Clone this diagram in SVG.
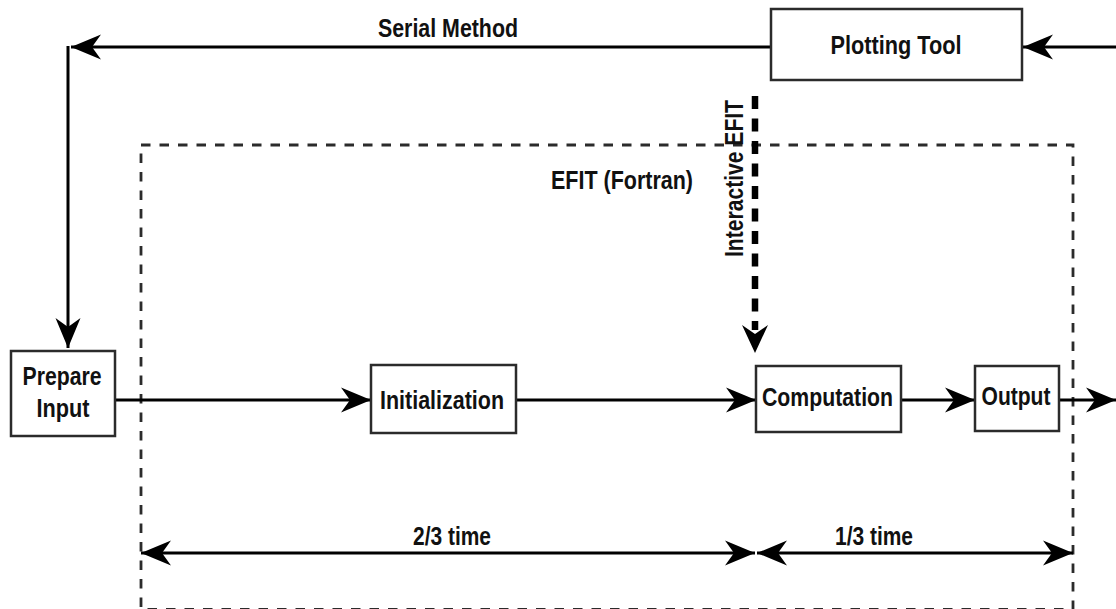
<svg xmlns="http://www.w3.org/2000/svg" width="1116" height="609" viewBox="0 0 1116 609">
<defs>
<marker id="ah" viewBox="0 0 30 26" refX="30" refY="13" markerWidth="30" markerHeight="26" markerUnits="userSpaceOnUse" orient="auto-start-reverse">
<path d="M0,0.5 L30,13 L0,25.5 L9,13 Z" fill="#000"/>
</marker>
<style>
.box{fill:#fff;stroke:#2b2b2b;stroke-width:2.5}
.ln{fill:none;stroke:#000;stroke-width:3}
.t{font-family:"Liberation Sans Narrow","Liberation Sans",Arial,sans-serif;font-weight:bold;font-size:25px;fill:#111;text-anchor:middle}
</style>
</defs>
<rect width="1116" height="609" fill="#fff"/>
<g id="efit-frame">
<rect x="141" y="145" width="932" height="464.5" fill="none" stroke="#2b2b2b" stroke-width="2.8" stroke-dasharray="9.5 9"/>
<text class="t" x="622" y="189" textLength="142" lengthAdjust="spacingAndGlyphs">EFIT (Fortran)</text>
</g>
<g id="connectors">
<path class="ln" d="M771,47 H71" marker-end="url(#ah)"/>
<path class="ln" d="M68,46 V348" marker-end="url(#ah)"/>
<path class="ln" d="M1116,47 H1023" marker-end="url(#ah)"/>
<path class="ln" d="M115,400 H371" marker-end="url(#ah)"/>
<path class="ln" d="M516,400 H756" marker-end="url(#ah)"/>
<path class="ln" d="M901,400 H975" marker-end="url(#ah)"/>
<path class="ln" d="M1059,400 H1116" marker-end="url(#ah)"/>
<path class="ln" d="M141,553 H755" marker-start="url(#ah)" marker-end="url(#ah)"/>
<path class="ln" d="M757,553 H1073" marker-start="url(#ah)" marker-end="url(#ah)"/>
<path d="M755,96 V330" fill="none" stroke="#000" stroke-width="6.5" stroke-dasharray="13 9.5"/>
<path d="M742,325 L755,353 L768,325 L755,334 Z" fill="#000"/>
<text class="t" x="448" y="36.5" textLength="140" lengthAdjust="spacingAndGlyphs">Serial Method</text>
<text class="t" transform="translate(743,178.5) rotate(-90)" x="0" y="0" textLength="157" lengthAdjust="spacingAndGlyphs">Interactive EFIT</text>
<text class="t" x="452" y="545" textLength="78" lengthAdjust="spacingAndGlyphs">2/3 time</text>
<text class="t" x="874" y="545" textLength="78" lengthAdjust="spacingAndGlyphs">1/3 time</text>
</g>
<g id="plotting-tool">
<rect class="box" x="771" y="9" width="251" height="71"/>
<text class="t" x="896" y="54" textLength="131" lengthAdjust="spacingAndGlyphs">Plotting Tool</text>
</g>
<g id="prepare-input">
<rect class="box" x="11" y="351" width="104" height="85"/>
<text class="t" x="62" y="385" textLength="79" lengthAdjust="spacingAndGlyphs">Prepare</text>
<text class="t" x="63" y="416.5" textLength="53" lengthAdjust="spacingAndGlyphs">Input</text>
</g>
<g id="initialization">
<rect class="box" x="371" y="365" width="145" height="68"/>
<text class="t" x="442" y="409" textLength="124" lengthAdjust="spacingAndGlyphs">Initialization</text>
</g>
<g id="computation">
<rect class="box" x="756" y="366" width="145" height="66"/>
<text class="t" x="827.5" y="406" textLength="131" lengthAdjust="spacingAndGlyphs">Computation</text>
</g>
<g id="output">
<rect class="box" x="975" y="366" width="84" height="65"/>
<text class="t" x="1016" y="405" textLength="69" lengthAdjust="spacingAndGlyphs">Output</text>
</g>
</svg>
